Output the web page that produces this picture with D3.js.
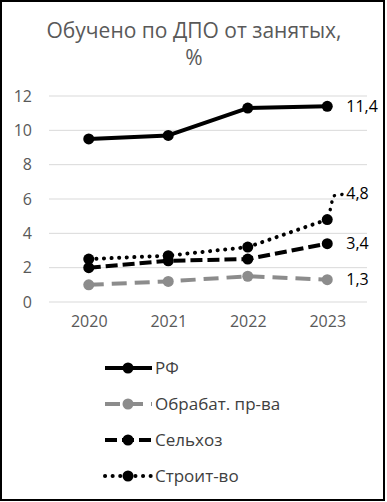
<!DOCTYPE html>
<html>
<head>
<meta charset="utf-8">
<script src="https://cdn.jsdelivr.net/npm/d3@7"></script>
<style>
  body { margin: 0; background: #fff; }
  svg { display: block; font-family: "Open Sans", sans-serif; }
</style>
</head>
<body>
<svg id="chart"></svg>
<script>
const years = ["2020", "2021", "2022", "2023"];
const yTicks = [0, 2, 4, 6, 8, 10, 12];
const rf = [9.5, 9.7, 11.3, 11.4];
const obrabat = [1.0, 1.2, 1.5, 1.3];
const selhoz = [2.0, 2.4, 2.5, 3.4];
const stroit = [2.5, 2.7, 3.2, 4.8];

const series = [
  {name: "РФ", values: rf, color: "#000", dash: null, label: "11,4"},
  {name: "Обрабат. пр-ва", values: obrabat, color: "#8c8c8c", dash: "15,8", label: "1,3"},
  {name: "Сельхоз", values: selhoz, color: "#000", dash: "12,5", label: "3,4"},
  {name: "Строит-во", values: stroit, color: "#000", dash: "0.1,7.5", label: "4,8"}
];

const W = 387, H = 502;
const svg = d3.select("#chart").attr("width", W).attr("height", H);

svg.append("rect")
  .attr("x", 1).attr("y", 1).attr("width", 383).attr("height", 499)
  .attr("fill", "#fff").attr("stroke", "#000").attr("stroke-width", 2);

const title = svg.append("text")
  .attr("text-anchor", "middle").attr("fill", "#595959").attr("font-size", 21);
title.append("tspan").attr("x", 194).attr("y", 38).text("Обучено по ДПО от занятых,");
title.append("tspan").attr("x", 194).attr("y", 65).text("%");

const x = d3.scalePoint().domain(years).range([49, 367]).padding(0.5);
const y = d3.scaleLinear().domain([0, 12]).range([302, 96]);

// grid
svg.append("g").selectAll("line").data(yTicks).join("line")
  .attr("x1", 49).attr("x2", 367)
  .attr("y1", d => y(d)).attr("y2", d => y(d))
  .attr("stroke", "#d9d9d9").attr("stroke-width", 1);

// y axis labels
const yAxis = svg.append("g").attr("transform", "translate(36,0)")
  .call(d3.axisLeft(y).tickValues(yTicks).tickSize(0).tickPadding(4));
yAxis.select(".domain").remove();
yAxis.selectAll("text").attr("fill", "#595959").attr("font-size", 16)
  .attr("font-family", "Open Sans, sans-serif");

// x axis labels
const xAxis = svg.append("g").attr("transform", "translate(0,316)")
  .call(d3.axisBottom(x).tickSize(0).tickPadding(0));
xAxis.select(".domain").remove();
xAxis.selectAll("text").attr("fill", "#595959").attr("font-size", 16)
  .attr("font-family", "Open Sans, sans-serif");

const line = d3.line().x((d, i) => x(years[i])).y(d => y(d));

// draw bottom to top
const order = [1, 2, 3, 0];
order.forEach(k => {
  const s = series[k];
  svg.append("path")
    .datum(s.values)
    .attr("d", line)
    .attr("fill", "none")
    .attr("stroke", s.color)
    .attr("stroke-width", 4)
    .attr("stroke-linecap", s.dash && s.dash.startsWith("0.1") ? "round" : "butt")
    .attr("stroke-linejoin", "round")
    .attr("stroke-dasharray", s.dash);
  svg.append("g").selectAll("circle").data(s.values).join("circle")
    .attr("cx", (d, i) => x(years[i]))
    .attr("cy", d => y(d))
    .attr("r", 5.5)
    .attr("fill", s.color);
});

// data labels on last point
const last = years.length - 1;
const labelOffset = {"РФ": 0, "Обрабат. пр-ва": 0, "Сельхоз": 0, "Строит-во": 6.3 - 4.8};
series.forEach(s => {
  const v = s.values[last] + labelOffset[s.name];
  svg.append("text")
    .attr("x", x(years[last]) + 19)
    .attr("y", y(v))
    .attr("dy", "0.35em")
    .attr("font-size", 16)
    .attr("fill", "#000")
    .text(s.label);
});

// leader line for moved label
const s4 = series[3];
const px = x(years[last]), py = y(s4.values[last]);
const ly = y(s4.values[last] + labelOffset["Строит-во"]);
svg.append("path")
  .attr("d", `M${px + 3},${py - 10} L${px + 6},${ly + 2} L${px + 18},${ly}`)
  .attr("fill", "none").attr("stroke", "#000").attr("stroke-width", 3.5)
  .attr("stroke-linecap", "round").attr("stroke-dasharray", "0.1,7.5");

// legend
const legend = svg.append("g").attr("transform", "translate(105,368)");
series.forEach((s, i) => {
  const g = legend.append("g").attr("transform", `translate(0,${i * 36})`);
  g.append("line")
    .attr("x1", 0).attr("x2", 47).attr("y1", 0).attr("y2", 0)
    .attr("stroke", s.color).attr("stroke-width", 4)
    .attr("stroke-linecap", s.dash && s.dash.startsWith("0.1") ? "round" : "butt")
    .attr("stroke-dasharray", s.dash);
  g.append("circle").attr("cx", 23).attr("cy", 0).attr("r", 5.5).attr("fill", s.color);
  g.append("text")
    .attr("x", 50).attr("y", 0).attr("dy", "0.35em")
    .attr("font-size", 17).attr("fill", "#404040")
    .text(s.name);
});
</script>
</body>
</html>
